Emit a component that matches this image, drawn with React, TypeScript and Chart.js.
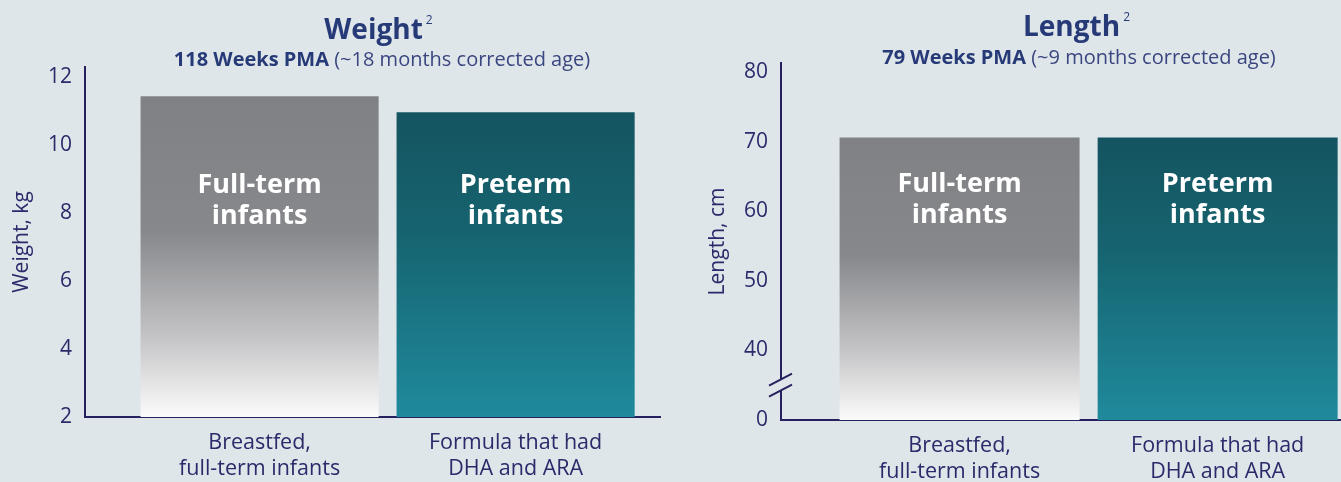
import React, { useEffect, useRef } from 'react';
import { Chart, registerables } from 'chart.js';

Chart.register(...registerables);

// ---------- data ----------
const categories: string[][] = [
  ['Breastfed,', 'full-term infants'],
  ['Formula that had', 'DHA and ARA'],
];
const barLabels: string[][] = [
  ['Full-term', 'infants'],
  ['Preterm', 'infants'],
];
const weightValues = [11.42, 10.95];
const lengthValues = [70.6, 70.6];
const weightTicks = [2, 4, 6, 8, 10, 12];
const lengthTicks = [30, 40, 50, 60, 70, 80];
const lengthTickLabels = ['0', '40', '50', '60', '70', '80'];

// ---------- styles ----------
const BG = '#dfe6e9';
const NAVY = '#2b2a6a';
const TITLE_NAVY = '#263a78';
const AXIS = '#25215e';
const FONT = '"Open Sans", "Noto Sans", sans-serif';

function barGradient(ctx: any) {
  const chart = ctx.chart;
  const area = chart.chartArea;
  const grey = ctx.dataIndex === 0;
  if (!area || !ctx.parsed) return grey ? '#828387' : '#155a66';
  const y = chart.scales.y;
  const top = y.getPixelForValue(ctx.parsed.y);
  const bottom = y.bottom;
  const g = chart.ctx.createLinearGradient(0, top, 0, bottom);
  if (grey) {
    g.addColorStop(0, '#808185');
    g.addColorStop(0.42, '#87888c');
    g.addColorStop(0.75, '#c4c4c6');
    g.addColorStop(1, '#fbfbfb');
  } else {
    g.addColorStop(0, '#145460');
    g.addColorStop(0.4, '#166470');
    g.addColorStop(1, '#1f8a9c');
  }
  return g;
}

const titlePlugin = {
  id: 'titleBlock',
  afterDraw(chart: any, _args: any, opts: any) {
    const c = chart.ctx;
    c.save();
    c.textBaseline = 'middle';
    // main title
    c.font = `bold 28px ${FONT}`;
    const tw = c.measureText(opts.title).width;
    c.font = `12px ${FONT}`;
    const sw = c.measureText(opts.sup).width;
    const startX = opts.titleX - (tw + sw + 2) / 2;
    c.fillStyle = TITLE_NAVY;
    c.textAlign = 'left';
    c.font = `bold 28px ${FONT}`;
    c.fillText(opts.title, startX, opts.titleY);
    c.font = `12px ${FONT}`;
    c.fillText(opts.sup, startX + tw + 3, opts.titleY - 10);
    // subtitle
    c.font = `bold 20px ${FONT}`;
    const bw = c.measureText(opts.subBold).width;
    c.font = `20px ${FONT}`;
    const rw = c.measureText(opts.subRest).width;
    const sx = opts.subX - (bw + rw) / 2;
    c.font = `bold 20px ${FONT}`;
    c.fillStyle = TITLE_NAVY;
    c.fillText(opts.subBold, sx, opts.subY);
    c.font = `20px ${FONT}`;
    c.fillStyle = '#3a4680';
    c.fillText(opts.subRest, sx + bw, opts.subY);
    c.restore();
  },
};

const barLabelPlugin = {
  id: 'barLabels',
  afterDatasetsDraw(chart: any, _args: any, opts: any) {
    const c = chart.ctx;
    const meta = chart.getDatasetMeta(0);
    c.save();
    c.fillStyle = '#ffffff';
    c.textAlign = 'center';
    c.textBaseline = 'middle';
    c.font = `bold 27px ${FONT}`;
    meta.data.forEach((el: any, i: number) => {
      const lines = barLabels[i];
      lines.forEach((t, j) => {
        c.fillText(t, el.x, chart.chartArea.top + opts.offset + j * 31);
      });
    });
    c.restore();
  },
};

const breakPlugin = {
  id: 'axisBreak',
  afterDraw(chart: any, _args: any, opts: any) {
    if (!opts || !opts.enabled) return;
    const c = chart.ctx;
    const y = chart.scales.y;
    const cy = y.getPixelForValue(opts.value);
    const x = chart.chartArea.left;
    c.save();
    c.fillStyle = BG;
    c.fillRect(x - 3, cy - 5.5, 6, 11);
    c.strokeStyle = AXIS;
    c.lineWidth = 2;
    [-5.5, 5.5].forEach((d) => {
      c.beginPath();
      c.moveTo(x - 12, cy + d + 6);
      c.lineTo(x + 11, cy + d - 6);
      c.stroke();
    });
    c.restore();
  },
};

function makeConfig(p: {
  values: number[];
  yMin: number;
  yMax: number;
  ticks: number[];
  tickLabels?: string[];
  yTitle: string;
  yTitlePad: number;
  yWidth: number;
  xMin: number;
  xMax: number;
  xHeight: number;
  padTop: number;
  padRight: number;
  titleOpts: any;
  labelOffset: number;
  brk: any;
}): any {
  return {
    type: 'bar',
    data: {
      datasets: [
        {
          data: p.values.map((v, i) => ({ x: i, y: v })),
          backgroundColor: barGradient,
          borderWidth: 0,
          barPercentage: 0.93,
          categoryPercentage: 1,
        },
      ],
    },
    options: {
      animation: false,
      responsive: false,
      devicePixelRatio: 1,
      layout: { padding: { top: p.padTop, right: p.padRight, left: 0, bottom: 0 } },
      plugins: {
        legend: { display: false },
        tooltip: { enabled: false },
        titleBlock: p.titleOpts,
        barLabels: { offset: p.labelOffset },
        axisBreak: p.brk,
      },
      scales: {
        x: {
          type: 'linear',
          offset: false,
          min: p.xMin,
          max: p.xMax,
          grid: { display: false, drawTicks: false },
          border: { display: true, color: AXIS, width: 2 },
          afterBuildTicks: (s: any) => {
            s.ticks = categories.map((_, i) => ({ value: i }));
          },
          afterFit: (s: any) => {
            s.height = p.xHeight;
          },
          ticks: {
            autoSkip: false,
            maxRotation: 0,
            padding: 13,
            color: NAVY,
            font: { family: FONT, size: 21.5, lineHeight: 1.22 },
            callback: (v: number) => categories[v] ?? '',
          },
        },
        y: {
          type: 'linear',
          min: p.yMin,
          max: p.yMax,
          grid: { display: false, drawTicks: false },
          border: { display: true, color: AXIS, width: 2 },
          afterBuildTicks: (s: any) => {
            s.ticks = p.ticks.map((v) => ({ value: v }));
          },
          afterFit: (s: any) => {
            s.width = p.yWidth;
          },
          ticks: {
            padding: 13,
            color: NAVY,
            font: { family: FONT, size: 21 },
            callback: (v: number) => {
              const i = p.ticks.indexOf(v);
              return p.tickLabels && i >= 0 ? p.tickLabels[i] : String(v);
            },
          },
          title: {
            display: true,
            text: p.yTitle,
            color: NAVY,
            font: { family: FONT, size: 21 },
            padding: { top: p.yTitlePad, bottom: 0 },
          },
        },
      },
    },
    plugins: [titlePlugin, barLabelPlugin, breakPlugin],
  };
}

function ChartCanvas({ config, width, left }: { config: any; width: number; left: number }) {
  const ref = useRef<HTMLCanvasElement>(null);
  useEffect(() => {
    if (!ref.current) return;
    const chart = new Chart(ref.current, config);
    return () => chart.destroy();
  }, []);
  return (
    <canvas
      ref={ref}
      width={width}
      height={482}
      style={{ position: 'absolute', left, top: 0, width, height: 482 }}
    />
  );
}

export default function App() {
  useEffect(() => {
    document.body.style.margin = '0';
    document.body.style.background = BG;
  }, []);

  const weightConfig = makeConfig({
    values: weightValues,
    yMin: 2,
    yMax: 12.28,
    ticks: weightTicks,
    yTitle: 'Weight, kg',
    yTitlePad: 9,
    yWidth: 85,
    xMin: -0.682,
    xMax: 1.564,
    xHeight: 65,
    padTop: 67,
    padRight: 20,
    titleOpts: {
      title: 'Weight',
      sup: '2',
      titleX: 378,
      titleY: 31,
      subBold: '118 Weeks PMA',
      subRest: ' (~18 months corrected age)',
      subX: 382,
      subY: 60,
    },
    labelOffset: 118,
    brk: { enabled: false },
  });

  const lengthConfig = makeConfig({
    values: lengthValues,
    yMin: 30,
    yMax: 81.3,
    ticks: lengthTicks,
    tickLabels: lengthTickLabels,
    yTitle: 'Length, cm',
    yTitlePad: 25,
    yWidth: 101,
    xMin: -0.692,
    xMax: 1.478,
    xHeight: 62,
    padTop: 63,
    padRight: 0,
    titleOpts: {
      title: 'Length',
      sup: '2',
      titleX: 396,
      titleY: 28,
      subBold: '79 Weeks PMA',
      subRest: ' (~9 months corrected age)',
      subX: 399,
      subY: 58,
    },
    labelOffset: 121,
    brk: { enabled: true, value: 35 },
  });

  return (
    <div style={{ position: 'relative', width: 1341, height: 482, background: BG, overflow: 'hidden' }}>
      <ChartCanvas config={weightConfig} width={680} left={0} />
      <ChartCanvas config={lengthConfig} width={661} left={680} />
    </div>
  );
}
